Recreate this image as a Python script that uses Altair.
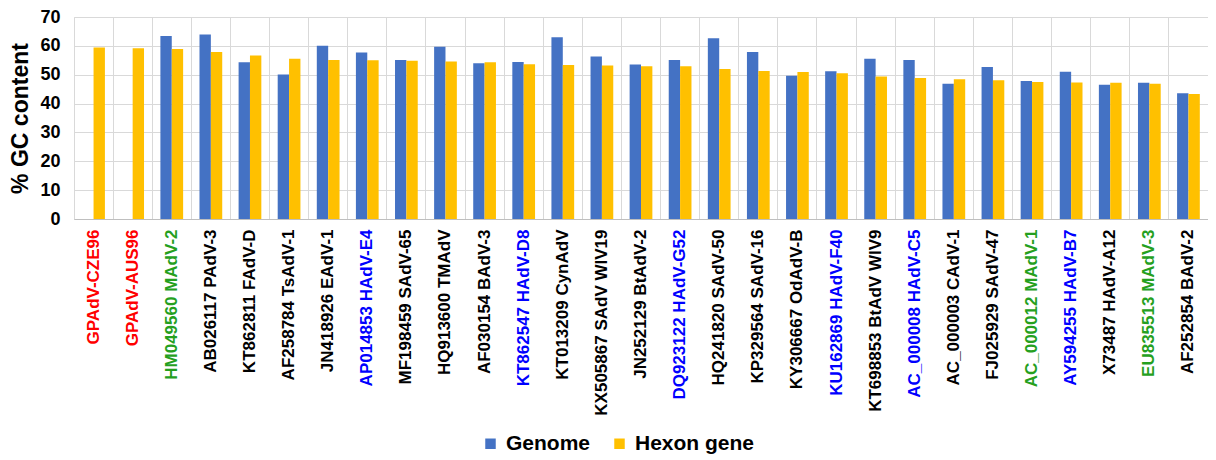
import json
import altair as alt
import pandas as pd

categories = [
    "GPAdV-CZE96", "GPAdV-AUS96", "HM049560 MAdV-2", "AB026117 PAdV-3",
    "KT862811 FAdV-D", "AF258784 TsAdV-1", "JN418926 EAdV-1", "AP014853 HAdV-E4",
    "MF198459 SAdV-65", "HQ913600 TMAdV", "AF030154 BAdV-3", "KT862547 HAdV-D8",
    "KT013209 CynAdV", "KX505867 SAdV WIV19", "JN252129 BtAdV-2", "DQ923122 HAdV-G52",
    "HQ241820 SAdV-50", "KP329564 SAdV-16", "KY306667 OdAdV-B", "KU162869 HAdV-F40",
    "KT698853 BtAdV WIV9", "AC_000008 HAdV-C5", "AC_000003 CAdV-1", "FJ025929 SAdV-47",
    "AC_000012 MAdV-1", "AY594255 HAdV-B7", "X73487 HAdV-A12", "EU835513 MAdV-3",
    "AF252854 BAdV-2",
]
genome = [None, None, 63.4, 63.9, 54.3, 50.1, 60.0, 57.7, 55.1, 59.7, 54.0, 54.4,
          63.0, 56.3, 53.5, 55.1, 62.6, 57.9, 49.6, 51.2, 55.5, 55.1, 46.9, 52.7,
          47.8, 51.0, 46.5, 47.2, 43.6]
hexon = [59.4, 59.2, 58.9, 57.9, 56.7, 55.5, 55.1, 55.0, 54.8, 54.6, 54.3, 53.6,
         53.4, 53.2, 52.9, 52.9, 52.0, 51.3, 50.9, 50.5, 49.4, 48.9, 48.4, 48.1,
         47.5, 47.3, 47.2, 46.9, 43.3]
series = ["Genome", "Hexon gene"]
series_colors = ["#4472C4", "#FFC000"]

red_labels = ["GPAdV-CZE96", "GPAdV-AUS96"]
green_labels = ["HM049560 MAdV-2", "AC_000012 MAdV-1", "EU835513 MAdV-3"]
blue_labels = ["AP014853 HAdV-E4", "KT862547 HAdV-D8", "DQ923122 HAdV-G52",
               "KU162869 HAdV-F40", "AC_000008 HAdV-C5", "AY594255 HAdV-B7"]

rows = []
for c, g, h in zip(categories, genome, hexon):
    rows.append({"virus": c, "series": series[0], "gc": g})
    rows.append({"virus": c, "series": series[1], "gc": h})
df = pd.DataFrame(rows)

color_expr = (
    f"indexof({json.dumps(red_labels)}, datum.value) >= 0 ? '#FF0000' : "
    f"(indexof({json.dumps(green_labels)}, datum.value) >= 0 ? '#25A01E' : "
    f"(indexof({json.dumps(blue_labels)}, datum.value) >= 0 ? '#0000FF' : '#000000'))"
)

FONT = "Liberation Sans"

chart = alt.Chart(df).mark_bar().encode(
    x=alt.X(
        "virus:N",
        sort=categories,
        scale=alt.Scale(paddingInner=0, paddingOuter=0),
        axis=alt.Axis(
            title=None,
            labelAngle=270,
            labelFontSize=17,
            labelFontWeight="bold",
            labelFont=FONT,
            labelColor=alt.ExprRef(expr=color_expr),
            labelPadding=10,
            labelLimit=400,
            ticks=False,
            grid=True,
            bandPosition=0,
            gridColor="#d9d9d9",
            domainColor="#bfbfbf",
            domainWidth=1,
        ),
    ),
    xOffset=alt.XOffset(
        "series:N",
        sort=series,
        scale=alt.Scale(domain=series, paddingInner=0, paddingOuter=0.72),
    ),
    y=alt.Y(
        "gc:Q",
        scale=alt.Scale(domain=[0, 70], nice=False),
        axis=alt.Axis(
            title="% GC content",
            values=[0, 10, 20, 30, 40, 50, 60, 70],
            titleFontSize=23,
            titleFontWeight="bold",
            titleFont=FONT,
            titleColor="#000000",
            titlePadding=7,
            labelFontSize=18,
            labelFontWeight="bold",
            labelFont=FONT,
            labelColor="#000000",
            labelPadding=14,
            domain=False,
            ticks=False,
            gridColor="#d9d9d9",
        ),
    ),
    color=alt.Color(
        "series:N",
        scale=alt.Scale(domain=series, range=series_colors),
        legend=alt.Legend(
            title=None,
            orient="none",
            legendX=406,
            legendY=416,
            direction="horizontal",
            symbolType="square",
            symbolSize=110,
            symbolStrokeWidth=0,
            labelFontSize=21,
            labelFontWeight="bold",
            labelFont=FONT,
            labelColor="#000000",
            labelOffset=5,
            columnPadding=18,
            padding=0,
        ),
    ),
).properties(
    width=1134,
    height=202,
    padding={"left": 1, "top": 0, "right": 0, "bottom": 0},
).configure_view(
    stroke="#d9d9d9",
).configure(
    font=FONT,
)

chart.save("out.html", embed_options={"renderer": "svg", "actions": False})
